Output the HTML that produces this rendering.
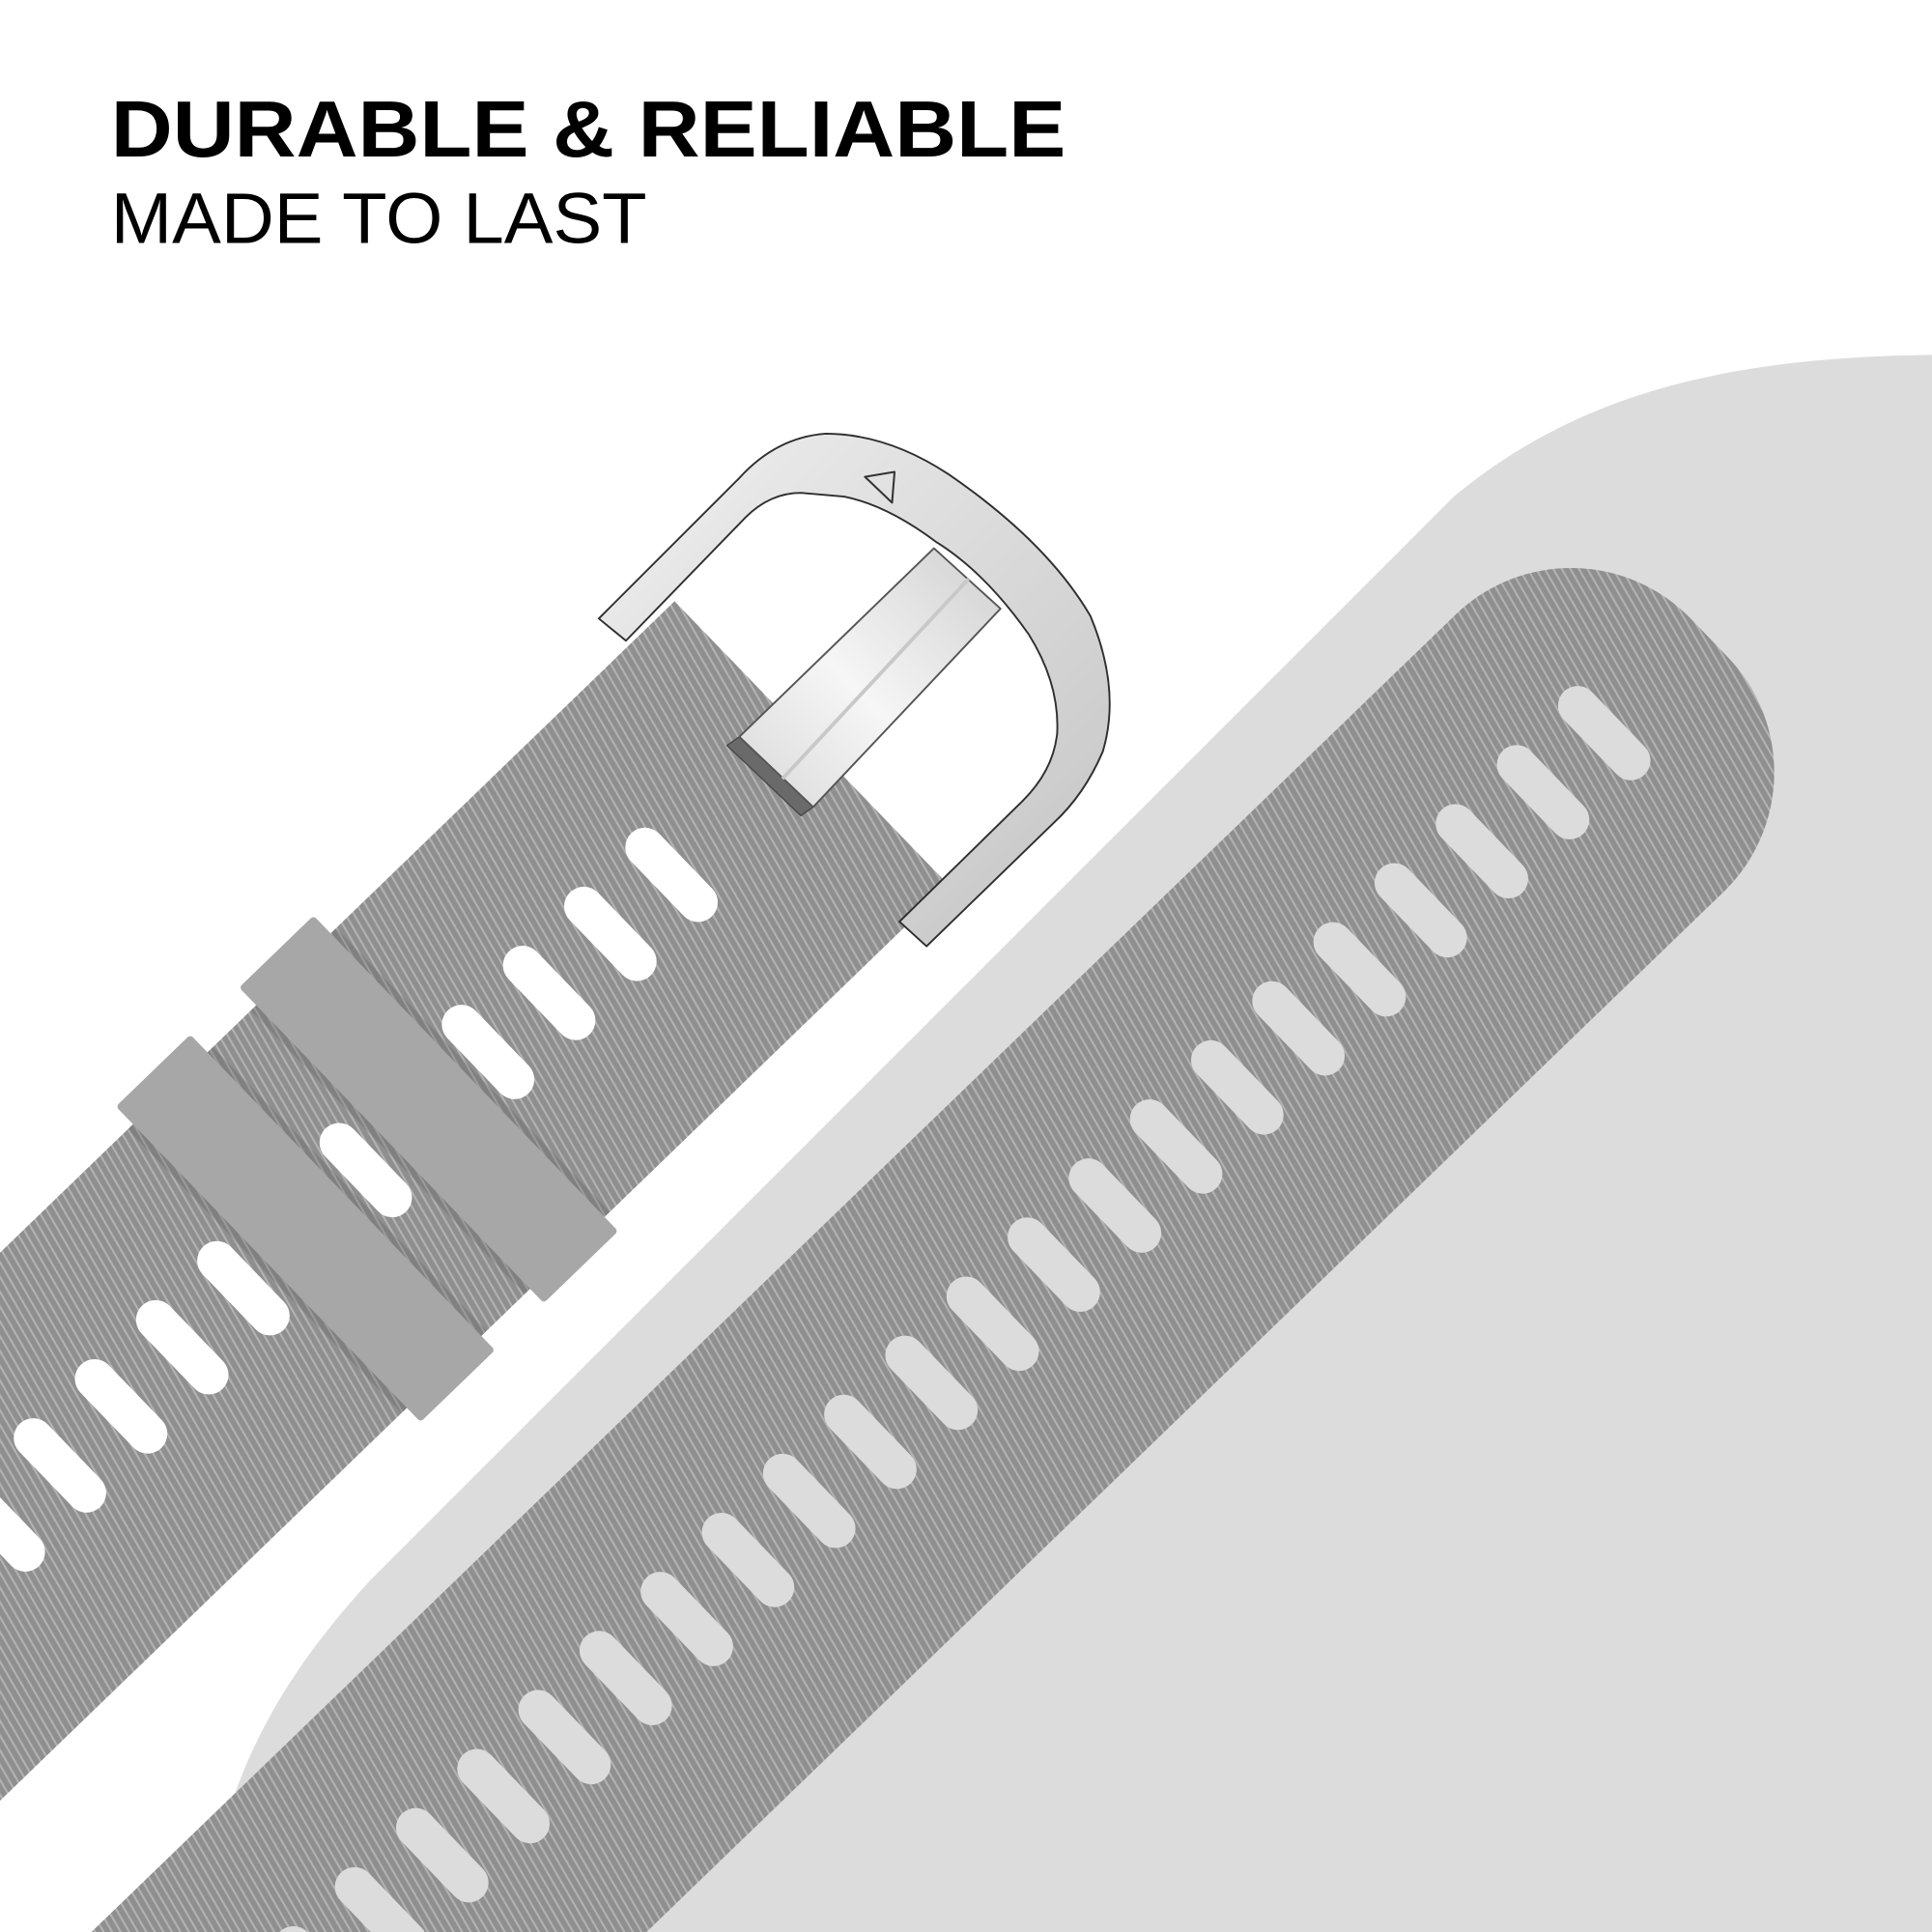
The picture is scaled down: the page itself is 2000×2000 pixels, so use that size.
<!DOCTYPE html>
<html><head><meta charset="utf-8">
<style>
html,body{margin:0;padding:0;background:#fff;overflow:hidden;}
svg{display:block;}
</style></head>
<body>
<svg width="2000" height="2000" viewBox="0 0 1568 1568" xmlns="http://www.w3.org/2000/svg">
<defs>
  <pattern id="stripe" width="6" height="6" patternUnits="userSpaceOnUse" patternTransform="rotate(14)">
    <rect width="6" height="6" fill="#8f8f8f"/>
    <rect x="0" y="0" width="1.6" height="6" fill="#b3b3b3"/>
  </pattern>
  <linearGradient id="silver" x1="0" y1="0" x2="1" y2="1">
    <stop offset="0" stop-color="#f0f0f0"/>
    <stop offset="0.5" stop-color="#dadada"/>
    <stop offset="1" stop-color="#c4c4c4"/>
  </linearGradient>
  <linearGradient id="tongue" x1="0" y1="1" x2="1" y2="0">
    <stop offset="0" stop-color="#d8d8d8"/>
    <stop offset="0.45" stop-color="#f6f6f6"/>
    <stop offset="1" stop-color="#d0d0d0"/>
  </linearGradient>
</defs>
<rect width="1568" height="1568" fill="#fff"/>
<!-- background shape -->
<path d="M1568,288 C1400,290 1280,320 1180,403 L300,1283 C230,1360 180,1440 165,1568 L1568,1568 Z" fill="#dcdcdc"/>

<!-- right strap -->
<g transform="translate(1302,595) rotate(-44)">
  <rect x="-2200" y="-153" width="2315" height="313" rx="135" ry="135" fill="url(#stripe)"/>
  <g fill="#dcdcdc">
    <rect x="-16" y="-47" width="32" height="94" rx="16"/>
    <rect x="-85" y="-47" width="32" height="94" rx="16"/>
    <rect x="-154" y="-47" width="32" height="94" rx="16"/>
    <rect x="-223" y="-47" width="32" height="94" rx="16"/>
    <rect x="-292" y="-47" width="32" height="94" rx="16"/>
    <rect x="-361" y="-47" width="32" height="94" rx="16"/>
    <rect x="-430" y="-47" width="32" height="94" rx="16"/>
    <rect x="-499" y="-47" width="32" height="94" rx="16"/>
    <rect x="-568" y="-47" width="32" height="94" rx="16"/>
    <rect x="-637" y="-47" width="32" height="94" rx="16"/>
    <rect x="-706" y="-47" width="32" height="94" rx="16"/>
    <rect x="-775" y="-47" width="32" height="94" rx="16"/>
    <rect x="-844" y="-47" width="32" height="94" rx="16"/>
    <rect x="-913" y="-47" width="32" height="94" rx="16"/>
    <rect x="-982" y="-47" width="32" height="94" rx="16"/>
    <rect x="-1051" y="-47" width="32" height="94" rx="16"/>
    <rect x="-1120" y="-47" width="32" height="94" rx="16"/>
    <rect x="-1189" y="-47" width="32" height="94" rx="16"/>
    <rect x="-1258" y="-47" width="32" height="94" rx="16"/>
    <rect x="-1327" y="-47" width="32" height="94" rx="16"/>
    <rect x="-1396" y="-47" width="32" height="94" rx="16"/>
    <rect x="-1465" y="-47" width="32" height="94" rx="16"/>
  </g>
</g>

<!-- left strap -->
<g transform="translate(545,710) rotate(-44)">
  <rect x="-1500" y="-158" width="1656" height="320" fill="url(#stripe)"/>
  <g fill="#fff">
    <rect x="-16" y="-47" width="32" height="94" rx="16"/>
    <rect x="-85" y="-47" width="32" height="94" rx="16"/>
    <rect x="-154" y="-47" width="32" height="94" rx="16"/>
    <rect x="-223" y="-47" width="32" height="94" rx="16"/>
    <rect x="-361" y="-47" width="32" height="94" rx="16"/>
    <rect x="-499" y="-47" width="32" height="94" rx="16"/>
    <rect x="-568" y="-47" width="32" height="94" rx="16"/>
    <rect x="-637" y="-47" width="32" height="94" rx="16"/>
    <rect x="-706" y="-47" width="32" height="94" rx="16"/>
    <rect x="-775" y="-47" width="32" height="94" rx="16"/>
    <rect x="-844" y="-47" width="32" height="94" rx="16"/>
    <rect x="-913" y="-47" width="32" height="94" rx="16"/>
    <rect x="-982" y="-47" width="32" height="94" rx="16"/>
  </g>
  <!-- shadows under keepers -->
  <rect x="-322" y="-158" width="96" height="320" fill="#555" opacity="0.25"/>
  <rect x="-461" y="-158" width="96" height="320" fill="#555" opacity="0.25"/>
  <!-- keepers -->
  <rect x="-316" y="-178" width="84" height="356" rx="3" fill="#a7a7a7"/>
  <rect x="-455" y="-178" width="84" height="356" rx="3" fill="#a7a7a7"/>
</g>

<!-- buckle frame -->
<path d="M486,502 L600,388 Q630,355 670,352 Q720,352 770,385 Q850,440 885,500 Q910,560 895,610 Q880,645 855,668 L752,768 L730,748 L830,650 Q855,625 858,595 Q860,555 835,515 Q800,465 760,440 Q720,410 685,403 L650,400 Q625,400 605,420 L508,520 Z"
      fill="url(#silver)" stroke="#2e2e2e" stroke-width="1.5" stroke-linejoin="round"/>
<!-- tongue -->
<polygon points="590,605 600,598 660,655 650,662" fill="#6a6a6a" stroke="#444" stroke-width="1"/>
<polygon points="600,598 758,445 812,494 660,655" fill="url(#tongue)" stroke="#555" stroke-width="1.5" stroke-linejoin="round"/>
<line x1="635" y1="632" x2="786" y2="470" stroke="#c8c8c8" stroke-width="3"/>
<!-- triangle mark -->
<polygon points="702,387 726,383 724,408" fill="none" stroke="#333" stroke-width="1.6" stroke-linejoin="round"/>

<!-- text -->
<text x="90" y="127" font-family="Liberation Sans, sans-serif" font-weight="bold" font-size="65" textLength="775" lengthAdjust="spacingAndGlyphs" fill="#000">DURABLE &amp; RELIABLE</text>
<text x="90" y="197" font-family="Liberation Sans, sans-serif" font-size="58" textLength="435" lengthAdjust="spacingAndGlyphs" fill="#000">MADE TO LAST</text>
</svg>
</body></html>
